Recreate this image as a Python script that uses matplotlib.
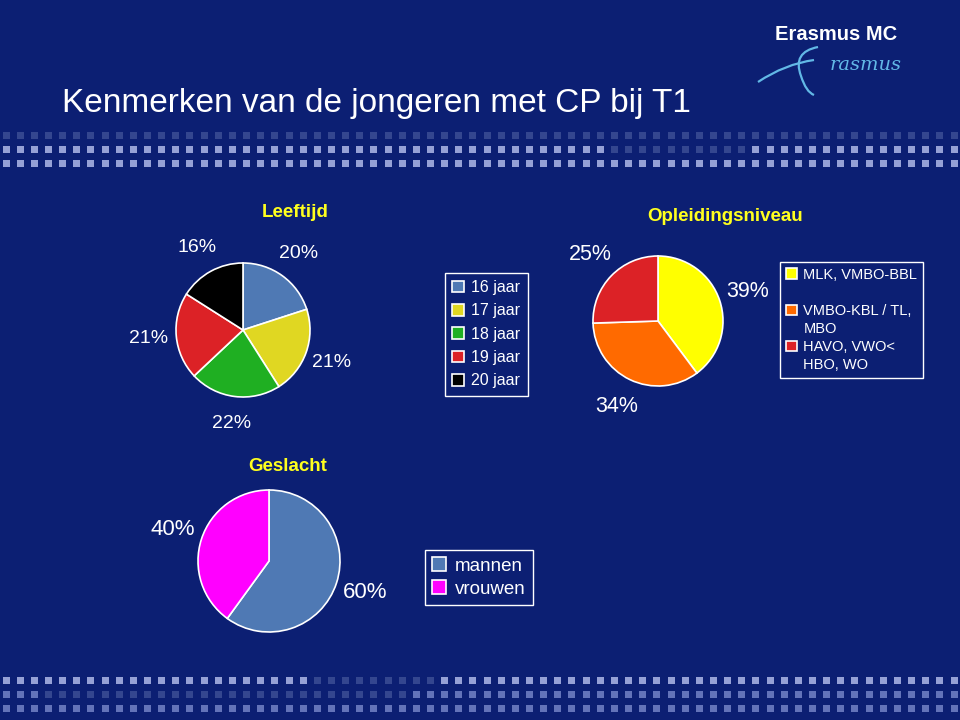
import matplotlib
matplotlib.use("Agg")
import matplotlib.pyplot as plt
from matplotlib.patches import Rectangle, Patch, PathPatch
from matplotlib.path import Path

W, H = 960, 720
BG = '#0c1f73'
LIGHT_BLUE = '#62b8e6'

# data
title = "Kenmerken van de jongeren met CP bij T1"

age_labels = ['16 jaar', '17 jaar', '18 jaar', '19 jaar', '20 jaar']
age_values = [20, 21, 22, 21, 16]
age_colors = ['#4f79b4', '#e0d722', '#1faf22', '#dc2226', '#000000']

edu_labels = ['MLK, VMBO-BBL', 'VMBO-KBL / TL,\nMBO', 'HAVO, VWO<\nHBO, WO']
edu_values = [39, 34, 25]
edu_colors = ['#ffff00', '#ff6a00', '#dc2226']

sex_labels = ['mannen', 'vrouwen']
sex_values = [60, 40]
sex_colors = ['#4f79b4', '#ff00ff']

plt.rcParams['font.family'] = ['Liberation Sans', 'DejaVu Sans']

fig = plt.figure(figsize=(9.6, 7.2), dpi=100, facecolor=BG)
bg = fig.add_axes([0, 0, 1, 1])
bg.set_xlim(0, W)
bg.set_ylim(H, 0)
bg.axis('off')
bg.set_facecolor(BG)

# decorative rows of squares (slide template)
BRIGHT, MED, DIM = '#96a1d6', '#6373b9', '#34468f'


def square_row(y, colour_at):
    x = 2.5
    while x < W:
        bg.add_patch(Rectangle((x, y), 7, 7, facecolor=colour_at(x), edgecolor='none'))
        x += 14.15


square_row(131.5, lambda x: DIM)
square_row(146, lambda x: DIM if 598 < x < 742 else BRIGHT)
square_row(160, lambda x: BRIGHT)
square_row(677, lambda x: DIM if 312 < x < 427 else BRIGHT)
square_row(690.5, lambda x: MED if x < 40 else (DIM if x < 412 else MED))
square_row(704.5, lambda x: MED)

# logo
bg.text(836, 40, "Erasmus MC", ha='center', va='baseline', fontsize=14.5,
        weight='bold', color='white', family=['Liberation Sans Narrow', 'Liberation Sans'])
swoosh = Path([(758, 82), (785, 64), (814, 60)], [Path.MOVETO, Path.CURVE3, Path.CURVE3])
c_shape = Path([(818, 47), (792, 52), (801, 76), (806, 92), (814, 95)],
               [Path.MOVETO, Path.CURVE3, Path.CURVE3, Path.CURVE3, Path.CURVE3])
for p in (swoosh, c_shape):
    bg.add_patch(PathPatch(p, facecolor='none', edgecolor=LIGHT_BLUE, lw=1.6))
bg.text(866, 70, "rasmus", ha='center', va='baseline', fontsize=14,
        style='italic', family='DejaVu Serif', color=LIGHT_BLUE)

# title
bg.text(62, 112, title, ha='left', va='baseline', fontsize=24, color='white')


def pie_ax(cx, cy, r, pad=1.8):
    ax = fig.add_axes([(cx - pad * r) / W, 1 - (cy + pad * r) / H,
                       2 * pad * r / W, 2 * pad * r / H])
    return ax, pad


def draw_pie(cx, cy, r, values, colors, dist, size):
    ax, pad = pie_ax(cx, cy, r)
    total = sum(values)
    wedges, texts, autotexts = ax.pie(
        values, colors=colors, startangle=90, counterclock=False,
        autopct=lambda p: f"{round(p * total / 100)}%", pctdistance=dist,
        wedgeprops=dict(edgecolor='white', linewidth=1.2),
        textprops=dict(color='white', fontsize=size))
    ax.set_xlim(-pad, pad)
    ax.set_ylim(-pad, pad)
    ax.axis('off')
    return wedges


def fx(x):
    return x / W


def fy(y):
    return 1 - y / H


legend_style = dict(loc='upper left', borderaxespad=0, fancybox=False, framealpha=1,
                    facecolor=BG, edgecolor='white', labelcolor='white',
                    handlelength=0.75, handleheight=0.75, handletextpad=0.45)

# Leeftijd
bg.text(295, 217, "Leeftijd", ha='center', va='baseline', fontsize=13.5,
        weight='bold', color='#ffff1e')
w_age = draw_pie(243, 330, 67, age_values, age_colors, 1.41, 14)
leg = fig.legend(w_age, age_labels, bbox_to_anchor=(fx(445), fy(273)), fontsize=11.5,
                 labelspacing=0.52, borderpad=0.45, **legend_style)
leg.get_frame().set_linewidth(1)

# Opleidingsniveau
bg.text(725, 221, "Opleidingsniveau", ha='center', va='baseline', fontsize=13.5,
        weight='bold', color='#ffff1e')
w_edu = draw_pie(658, 321, 65, edu_values, edu_colors, 1.46, 15.5)
blank = Patch(facecolor='none', edgecolor='none')
rows_h, rows_l = [], []
for wdg, lab in zip(w_edu, edu_labels):
    parts = lab.split('\n')
    if len(parts) == 1:
        parts.append('')
    rows_h.append(wdg)
    rows_l.append(parts[0])
    for extra in parts[1:]:
        rows_h.append(blank)
        rows_l.append(extra)
leg = fig.legend(rows_h, rows_l, bbox_to_anchor=(fx(780), fy(262)), fontsize=10.5,
                 labelspacing=0.28, borderpad=0.4, **legend_style)
leg.get_frame().set_linewidth(1)

# Geslacht
bg.text(288, 471, "Geslacht", ha='center', va='baseline', fontsize=13.5,
        weight='bold', color='#ffff1e')
w_sex = draw_pie(269, 561, 71, sex_values, sex_colors, 1.42, 16)
leg = fig.legend(w_sex, sex_labels, bbox_to_anchor=(fx(425), fy(550)), fontsize=13.5,
                 labelspacing=0.3, borderpad=0.38, **legend_style)
leg.get_frame().set_linewidth(1)

fig.savefig('out.png', dpi=100, facecolor=BG)
